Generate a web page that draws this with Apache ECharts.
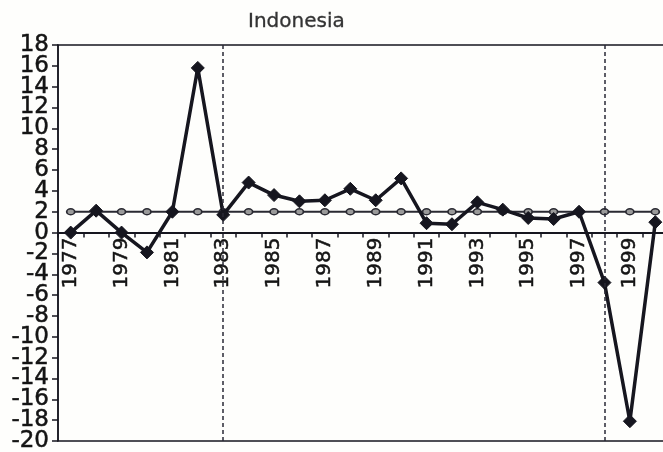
<!DOCTYPE html>
<html>
<head>
<meta charset="utf-8">
<script src="https://cdn.jsdelivr.net/npm/echarts@6/dist/echarts.min.js"></script>
<style>
  html, body { margin: 0; padding: 0; background: #fefefc; }
  #chart { width: 663px; height: 452px; }
</style>
</head>
<body>
<div id="chart"></div>
<script>
// Annual growth, Indonesia
const years = ['1977','1978','1979','1980','1981','1982','1983','1984','1985','1986','1987','1988',
               '1989','1990','1991','1992','1993','1994','1995','1996','1997','1998','1999','2000'];
const growth = [0, 2.1, 0, -1.9, 2.0, 15.8, 1.7, 4.8, 3.6, 3.0, 3.1, 4.2,
                3.1, 5.2, 0.9, 0.8, 2.9, 2.2, 1.4, 1.3, 2.0, -4.8, -18.1, 1.0];
// Long-run average level
const average = [2, 2, 2, 2, 2, 2, 2, 2, 2, 2, 2, 2,
                 2, 2, 2, 2, 2, 2, 2, 2, 2, 2, 2, 2];
// Break years marked with vertical lines
const breakYears = ['1983', '1998'];
const yMin = -20, yMax = 18, yStep = 2;

const ink = '#16161f';
const font = 'DejaVu Sans';

// plot box
const gridTop = 45, gridHeight = 396;
// lift the category axis from the bottom edge up to the zero level
const zeroLift = gridHeight * (0 - yMin) / (yMax - yMin);

const yLabelText = {
  fontFamily: font, fontSize: 23, color: '#141414',
  textBorderColor: '#141414', textBorderWidth: 0.5
};

const chart = echarts.init(document.getElementById('chart'), null, { renderer: 'canvas' });
chart.setOption({
  backgroundColor: '#fefefc',
  animation: false,
  title: {
    text: 'Indonesia',
    left: 243,
    top: 7,
    textStyle: { fontFamily: font, fontSize: 20, fontWeight: 'normal', color: '#333333',
                 textBorderColor: '#333333', textBorderWidth: 0.3 }
  },
  grid: {
    left: 58, top: gridTop, width: 610, height: gridHeight,
    containLabel: false, outerBoundsMode: 'none',
    show: true, borderColor: ink, borderWidth: 1.5, backgroundColor: 'transparent'
  },
  xAxis: {
    type: 'category',
    data: years,
    boundaryGap: true,
    position: 'bottom',
    offset: -zeroLift,
    axisLine: { onZero: false, lineStyle: { color: ink, width: 2 } },
    axisTick: { show: true, interval: 0, length: 5, inside: false, lineStyle: { color: ink, width: 1.5 } },
    axisLabel: {
      interval: 1, rotate: 90, margin: 5, hideOverlap: false,
      fontFamily: font, fontSize: 20, color: '#141414',
      textBorderColor: '#141414', textBorderWidth: 0.5
    },
    splitLine: { show: false }
  },
  yAxis: [
    {
      // inner ticks and labels (-18 … 16)
      type: 'value',
      position: 'left',
      min: yMin, max: yMax, interval: yStep,
      axisLine: { show: true, lineStyle: { color: ink, width: 1.5 } },
      axisTick: { show: true, length: 6, lineStyle: { color: ink, width: 1.5 } },
      axisLabel: Object.assign({ margin: 9, hideOverlap: false, showMinLabel: false, showMaxLabel: false }, yLabelText),
      splitLine: { show: false }
    },
    {
      // end labels (-20 and 18) on the same scale
      type: 'value',
      position: 'left',
      min: yMin, max: yMax, interval: yMax - yMin,
      axisLine: { show: false },
      axisTick: { show: true, length: 6, lineStyle: { color: ink, width: 1.5 } },
      axisLabel: Object.assign({ margin: 9, hideOverlap: false, showMinLabel: true, showMaxLabel: true }, yLabelText),
      splitLine: { show: false }
    }
  ],
  series: [
    {
      name: 'average',
      type: 'line',
      data: average,
      z: 2,
      symbol: 'circle',
      symbolSize: [8, 6],
      showAllSymbol: true,
      lineStyle: { color: '#2a2a32', width: 2 },
      itemStyle: { color: '#9a9a9a', borderColor: '#2a2a32', borderWidth: 1.5 }
    },
    {
      name: 'growth',
      type: 'line',
      data: growth,
      z: 3,
      symbol: 'diamond',
      symbolSize: [13, 13],
      showAllSymbol: true,
      lineStyle: { color: ink, width: 3.5 },
      itemStyle: { color: ink, borderColor: ink, borderWidth: 1 },
      markLine: {
        silent: true,
        symbol: ['none', 'none'],
        label: { show: false },
        lineStyle: { color: '#2a2a36', width: 1.5, type: [4, 3] },
        data: breakYears.map(y => ({ xAxis: y }))
      }
    }
  ]
});
</script>
</body>
</html>
